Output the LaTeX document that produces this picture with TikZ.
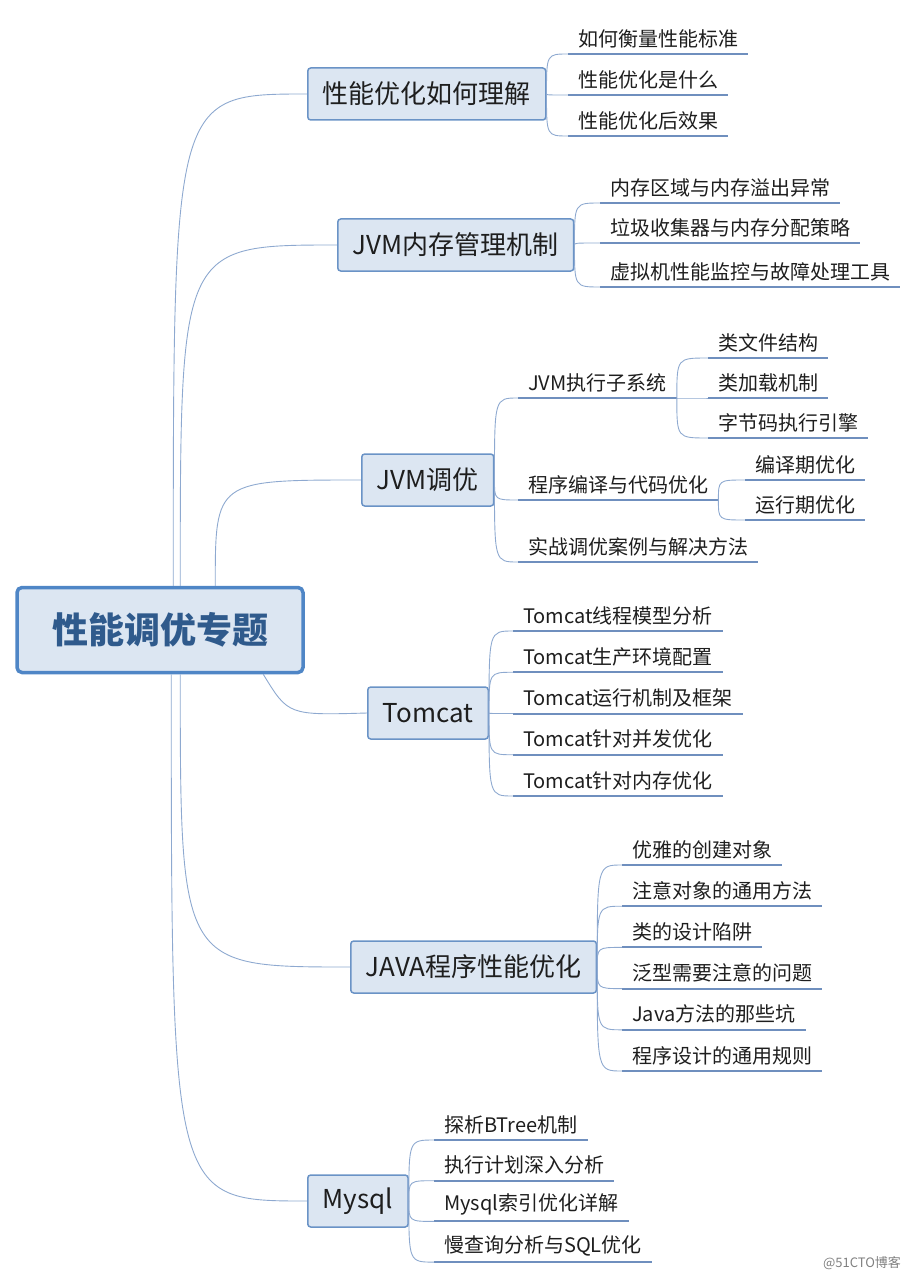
\documentclass[tikz,border=0pt]{standalone}
\usepackage{fontspec}
\setmainfont{Noto Sans CJK SC}
\usetikzlibrary{calc}
\definecolor{boxfill}{HTML}{DCE6F2}
\definecolor{boxline}{HTML}{6A93C6}
\definecolor{rootline}{HTML}{4F86C6}
\definecolor{roottext}{HTML}{2F5A8C}
\definecolor{linkc}{HTML}{8EA9D0}
\definecolor{ulc}{HTML}{6F8FBE}
\definecolor{leaftext}{HTML}{1E1E1E}

\begin{document}
\begin{tikzpicture}[x=1pt,y=-1pt,
        root/.style={draw=rootline, line width=3.5pt, fill=boxfill, rounded corners=5pt,
            minimum width=286pt, minimum height=85pt, text=roottext,
            font=\fontsize{36}{40}\selectfont\bfseries},
        topic/.style={draw=boxline, line width=1.5pt, fill=boxfill, rounded corners=3pt,
            minimum height=52pt, inner xsep=15pt, text=leaftext,
            font=\fontsize{26}{29}\selectfont},
        leaf/.style={anchor=south west, inner xsep=10pt, inner ysep=6pt, text=leaftext,
            font=\fontsize{20}{23}\selectfont},
        uline/.style={draw=ulc, line width=2pt},
        link/.style={draw=linkc, line width=0.9pt}
    ]
    \useasboundingbox (0,0) rectangle (920,1281);

    \node[root] (root) at (160,630) {性能调优专题};

    \node[topic, anchor=west] (b1) at (307,94) {性能优化如何理解};
    \node[topic, anchor=west] (b2) at (337,245) {JVM内存管理机制};
    \node[topic, anchor=west] (b3) at (361,480) {JVM调优};
    \node[topic, anchor=west] (b4) at (367,713) {Tomcat};
    \node[topic, anchor=west] (b5) at (350,967) {JAVA程序性能优化};
    \node[topic, anchor=west] (b6) at (307,1201) {Mysql};

    % root to topics
    \coordinate (r1) at ($(root.north west)+(158,0)$);
    \coordinate (r2) at ($(root.north west)+(165,0)$);
    \coordinate (r3) at ($(root.north west)+(200,0)$);
    \coordinate (r4) at ($(root.south west)+(248,0)$);
    \coordinate (r5) at ($(root.south west)+(165,0)$);
    \coordinate (r6) at ($(root.south west)+(156,0)$);
    \foreach \i in {1,2,3,5,6}
        \draw[link] (r\i) .. controls (r\i |- b\i.west) .. (b\i.west);
    \draw[link] (r4) .. controls ($(r4)+(25,41)$) .. (b4.west);

    % leaves
    \foreach \t [count=\i] in {如何衡量性能标准,性能优化是什么,性能优化后效果}{
        \node[leaf] (a\i) at (568,{54+41*(\i-1)}) {\t};
        \draw[uline] (a\i.south west) -- (a\i.south east);
        \draw[link] (b1.east) .. controls (b1.east |- a\i.south west) .. (a\i.south west);
    }
    \foreach \t/\y [count=\i] in {内存区域与内存溢出异常/203,垃圾收集器与内存分配策略/243,虚拟机性能监控与故障处理工具/287}{
        \node[leaf] (c\i) at (600,\y) {\t};
        \draw[uline] (c\i.south west) -- (c\i.south east);
        \draw[link] (b2.east) .. controls (b2.east |- c\i.south west) .. (c\i.south west);
    }
    \foreach \t/\y [count=\i] in {JVM执行子系统/398,程序编译与代码优化/500,实战调优案例与解决方法/562}{
        \node[leaf] (d\i) at (518,\y) {\t};
        \draw[uline] (d\i.south west) -- (d\i.south east);
        \draw[link] (b3.east) .. controls (b3.east |- d\i.south west) .. (d\i.south west);
    }
    \foreach \t/\y [count=\i] in {类文件结构/358,类加载机制/398,字节码执行引擎/438}{
        \node[leaf] (e\i) at (708,\y) {\t};
        \draw[uline] (e\i.south west) -- (e\i.south east);
        \draw[link] (d1.south east) .. controls (d1.south east |- e\i.south west) .. (e\i.south west);
    }
    \foreach \t/\y [count=\i] in {编译期优化/480,运行期优化/520}{
        \node[leaf] (f\i) at (745,\y) {\t};
        \draw[uline] (f\i.south west) -- (f\i.south east);
        \draw[link] (d2.south east) .. controls (d2.south east |- f\i.south west) .. (f\i.south west);
    }
    \foreach \t [count=\i] in {Tomcat线程模型分析,Tomcat生产环境配置,Tomcat运行机制及框架,Tomcat针对并发优化,Tomcat针对内存优化}{
        \node[leaf] (g\i) at (513,{631+41.25*(\i-1)}) {\t};
        \draw[uline] (g\i.south west) -- (g\i.south east);
        \draw[link] (b4.east) .. controls (b4.east |- g\i.south west) .. (g\i.south west);
    }
    \foreach \t [count=\i] in {优雅的创建对象,注意对象的通用方法,类的设计陷阱,泛型需要注意的问题,Java方法的那些坑,程序设计的通用规则}{
        \node[leaf] (h\i) at (622,{865+41.2*(\i-1)}) {\t};
        \draw[uline] (h\i.south west) -- (h\i.south east);
        \draw[link] (b5.east) .. controls (b5.east |- h\i.south west) .. (h\i.south west);
    }
    \foreach \t [count=\i] in {探析BTree机制,执行计划深入分析,Mysql索引优化详解,慢查询分析与SQL优化}{
        \node[leaf] (k\i) at (434,{1140+40.7*(\i-1)}) {\t};
        \draw[uline] (k\i.south west) -- (k\i.south east);
        \draw[link] (b6.east) .. controls (b6.east |- k\i.south west) .. (k\i.south west);
    }

    \node[text=gray, font=\fontsize{13}{15}\selectfont] (wm) at (862,1263) {@51CTO博客};
\end{tikzpicture}
\end{document}
